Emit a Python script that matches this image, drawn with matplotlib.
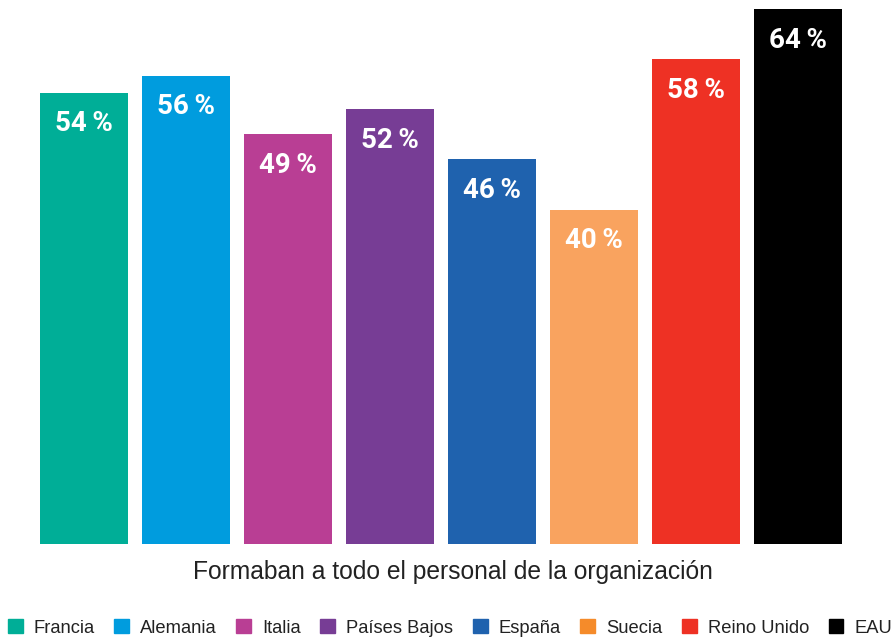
import numpy as np
import matplotlib.pyplot as plt
from matplotlib.patches import Patch

#%%# data

paises=["Francia","Alemania","Italia","Países Bajos","España","Suecia","Reino Unido","EAU"]
valores=[54,56,49,52,46,40,58,64]
colores=["#00AE97","#009CDE","#B93E94","#773D95","#1F62AE","#F9A35F","#EE3124","#000000"]
# legend swatch for Suecia is a stronger orange than the bar
colores_leyenda=["#00AE97","#009CDE","#B93E94","#773D95","#1F62AE","#F58B2A","#EE3124","#000000"]
titulo="Formaban a todo el personal de la organización"

#%%# figure

fig=plt.figure(figsize=(8.93,6.42),dpi=100)
ax=fig.add_axes([40/893,1-544/642,802/893,535/642])
w=88/102
x=np.arange(len(paises))
ax.bar(x,valores,width=w,color=colores)
ax.set_xlim(-w/2,len(paises)-1+w/2)
ax.set_ylim(0,64)
ax.axis("off")

# value labels inside bars
for i,v in enumerate(valores):
    ax.annotate(f"{v}\u2009%",(i,v),xytext=(0,-31),textcoords="offset pixels",
                ha="center",va="center",color="white",fontsize=20,fontweight="bold",
                family=["Roboto","DejaVu Sans"])

fig.text(453/893,1-572/642,titulo,ha="center",va="center",fontsize=17.7,color="#222222",
         family=["Liberation Sans","DejaVu Sans"])

handles=[Patch(color=c,label=p) for p,c in zip(paises,colores_leyenda)]
fig.legend(handles=handles,loc="center left",bbox_to_anchor=(8/893,1-640/642,884/893,24/642),
           mode="expand",ncol=8,frameon=False,borderpad=0,borderaxespad=0,
           handlelength=0.8,handleheight=0.8,handletextpad=0.6,columnspacing=1.3,
           prop={"family":["Liberation Sans","DejaVu Sans"],"size":13.2},labelcolor="#222222")

fig.savefig("out.png",dpi=100)
